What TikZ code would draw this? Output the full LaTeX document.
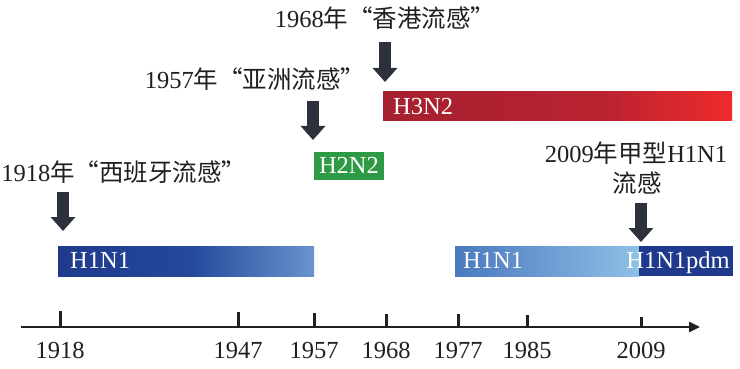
\documentclass[tikz,border=0pt]{standalone}
\usepackage{fontspec}
\setmainfont{Liberation Serif}
\newfontfamily\cjk{Noto Sans CJK SC}
\usetikzlibrary{arrows.meta}
\definecolor{txt}{HTML}{231F20}
\definecolor{arr}{HTML}{2C313B}
\definecolor{navy}{HTML}{1F3A8C}
\definecolor{navymid}{HTML}{24489B}
\definecolor{bluelite}{HTML}{6A93CF}
\definecolor{blueA}{HTML}{4A78BF}
\definecolor{blueB}{HTML}{8FC0E6}
\definecolor{redA}{HTML}{A6202F}
\definecolor{redB}{HTML}{B92231}
\definecolor{redC}{HTML}{EE2B2B}
\definecolor{grn}{HTML}{2E9A45}
\begin{document}
\begin{tikzpicture}[x=1pt,y=-1pt,
  lbl/.style={font=\fontsize{24.5}{29}\selectfont, text=txt, inner sep=0pt},
  barlbl/.style={font=\fontsize{24.5}{29}\selectfont, text=white, inner sep=0pt},
  blockarrow/.style={draw=arr, line width=12pt, -{Triangle[width=24pt,length=14pt]}},
  tickline/.style={draw=txt, line width=3pt},
  axisline/.style={draw=txt, line width=2.6pt, -{Triangle[width=10pt,length=11pt]}}]
\useasboundingbox[fill=white] (0,0) rectangle (740,369);

% bars
\shade[left color=navy, right color=navymid] (58,246) rectangle (190,276);
\shade[left color=navymid, right color=bluelite] (189.5,246) rectangle (314,276);
\shade[left color=blueA, right color=blueB] (455,246) rectangle (639,276);
\fill[navy] (639,246) rectangle (733,276);
\shade[left color=redA, right color=redB] (383,92) rectangle (600,121);
\shade[left color=redB, right color=redC] (599.5,92) rectangle (732,121);
\fill[grn] (314,152) rectangle (384,180);

% bar labels
\node[barlbl, anchor=base west] (h1n1a) at (70,268) {H1N1};
\node[barlbl, anchor=base west] (h1n1b) at (463,268) {H1N1};
\node[barlbl, anchor=base east] (h1n1pdm) at (730,268) {H1N1pdm};
\node[barlbl, anchor=base west] (h3n2) at (393,115) {H3N2};
\node[barlbl, anchor=base] (h2n2) at (349,173) {H2N2};

% event labels
\node[lbl, anchor=base] (l1968) at (385,28) {1968{\cjk 年“香港流感”}};
\node[lbl, anchor=base] (l1957) at (255,89) {1957{\cjk 年“亚洲流感”}};
\node[lbl, anchor=base] (l1918) at (124,182) {1918{\cjk 年“西班牙流感”}};
\node[lbl, anchor=base] (l2009a) at (636,162) {2009{\cjk 年甲型}H1N1};
\node[lbl, anchor=base] (l2009b) at (637,192) {\cjk 流感};

% block arrows
\coordinate (a68s) at (385,42);  \coordinate (a68e) at (385,82);
\coordinate (a57s) at (313,101); \coordinate (a57e) at (313,140);
\coordinate (a18s) at (63,192);  \coordinate (a18e) at (63,231);
\coordinate (a09s) at (641,203); \coordinate (a09e) at (641,242);
\draw[blockarrow] (a68s) -- (a68e);
\draw[blockarrow] (a57s) -- (a57e);
\draw[blockarrow] (a18s) -- (a18e);
\draw[blockarrow] (a09s) -- (a09e);

% axis
\coordinate (ax0) at (21,327);
\coordinate (ax1) at (700,327);
\draw[axisline] (ax0) -- (ax1);
\foreach \xx/\yr/\tp in {60/1918/311, 238/1947/312, 314/1957/313, 386/1968/314, 458/1977/314, 527/1985/315, 641/2009/317}{
  \coordinate (tb\yr) at (\xx,327);
  \coordinate (tt\yr) at (\xx,\tp);
  \draw[tickline] (tb\yr) -- (tt\yr);
  \node[lbl, anchor=base] (y\yr) at (\xx,358) {\yr};
}
\end{tikzpicture}
\end{document}
